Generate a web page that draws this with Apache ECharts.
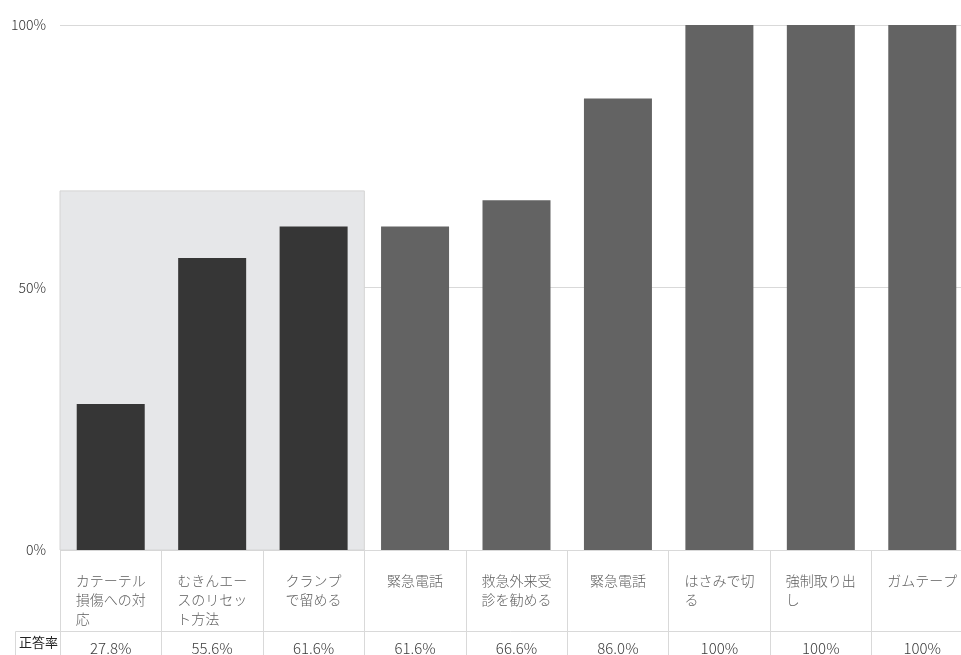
<!DOCTYPE html>
<html>
<head>
<meta charset="utf-8">
<script src="https://cdn.jsdelivr.net/npm/echarts@6/dist/echarts.min.js"></script>
<style>
html,body{margin:0;padding:0;background:#fff;}
#chart{width:961px;height:655px;}
</style>
</head>
<body>
<div id="chart"></div>
<script>
const categories = [
  'カテーテル\n損傷への対\n応',
  'むきんエー\nスのリセッ\nト方法',
  'クランプ\nで留める',
  '緊急電話',
  '救急外来受\n診を勧める',
  '緊急電話',
  'はさみで切\nる',
  '強制取り出\nし',
  'ガムテープ'
];
const darkValues = [27.8, 55.6, 61.6, null, null, null, null, null, null];
const grayValues = [null, null, null, 61.6, 66.6, 86.0, 100, 100, 100];
const valueLabels = ['27.8%', '55.6%', '61.6%', '61.6%', '66.6%', '86.0%', '100%', '100%', '100%'];
const rowName = '正答率';
const yTicks = [0, 50, 100];
const highlightX = [0, 3];
const highlightY = [0, 68.4];

const FONT = '"Noto Sans CJK JP", "Noto Sans", sans-serif';
const chart = echarts.init(document.getElementById('chart'));
chart.setOption({
  animation: false,
  backgroundColor: '#ffffff',
  grid: {left: 60, top: 25, width: 913, height: 525, outerBoundsMode: 'none', containLabel: false},
  xAxis: [
    {
      type: 'category', data: categories, gridIndex: 0,
      axisLine: {show: false},
      axisTick: {show: true, length: 105, interval: 0, lineStyle: {color: '#d9d9d9'}},
      axisLabel: {
        interval: 0, margin: 21,
        formatter: v => '{t|' + v + '}',
        rich: {t: {fontSize: 14, lineHeight: 19, color: '#5e5e5e', fontWeight: 300, fontFamily: FONT, align: 'left'}}
      }
    },
    {
      type: 'category', data: categories, gridIndex: 0, position: 'bottom', offset: 81,
      axisLine: {show: true, lineStyle: {color: '#d9d9d9'}},
      axisTick: {show: false},
      axisLabel: {interval: 0, margin: 10, fontSize: 15, color: '#3a3a3a', fontWeight: 300, fontFamily: FONT,
        formatter: (v, i) => valueLabels[i]},
      name: rowName, nameLocation: 'start', nameGap: 2,
      nameTextStyle: {fontSize: 13, color: '#222222', fontFamily: FONT, verticalAlign: 'top', padding: [5, 0, 0, 0]}
    },
    {type: 'value', min: 0, max: 9, show: false, gridIndex: 0}
  ],
  yAxis: {
    type: 'value', min: 0, max: 100, interval: 50, z: 1,
    axisLine: {show: false}, axisTick: {show: false},
    axisLabel: {margin: 14, fontSize: 14, color: '#333333', fontWeight: 300, fontFamily: FONT, formatter: v => v + '%'},
    splitLine: {lineStyle: {color: '#d9d9d9'}}
  },
  graphic: [{
    type: 'polyline', z: 10,
    shape: {points: [[15.5, 655], [15.5, 631.5], [60, 631.5]]},
    style: {stroke: '#d9d9d9', fill: null, lineWidth: 1}
  }],
  series: [
    {
      type: 'line', xAxisIndex: 2, data: [], z: 0, silent: true,
      markArea: {
        silent: true,
        itemStyle: {color: '#e6e7e9', borderColor: '#d4d4d4', borderWidth: 1},
        data: [[{xAxis: highlightX[0], yAxis: highlightY[0]}, {xAxis: highlightX[1], yAxis: highlightY[1]}]]
      }
    },
    {type: 'bar', xAxisIndex: 0, data: darkValues, stack: 's', barWidth: 68, z: 3,
      itemStyle: {color: '#363636'}},
    {type: 'bar', xAxisIndex: 0, data: grayValues, stack: 's', barWidth: 68, z: 3,
      itemStyle: {color: '#636363'}}
  ]
});
</script>
</body>
</html>
